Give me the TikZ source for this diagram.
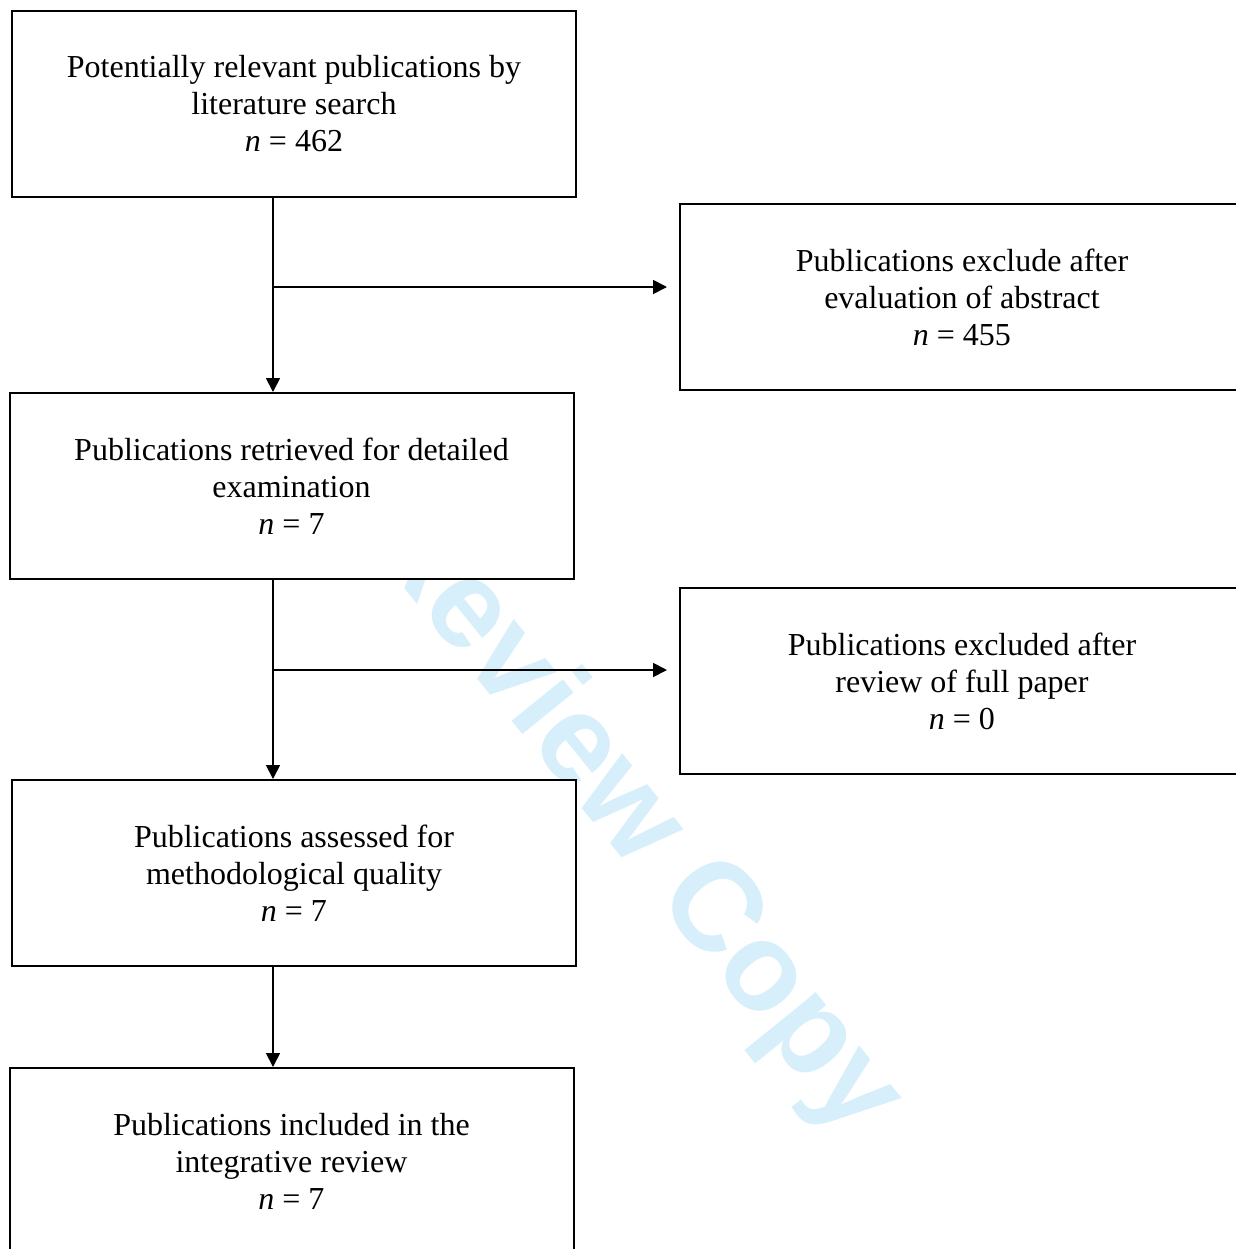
\documentclass[tikz,border=0pt]{standalone}
\usepackage{fontspec}
\setmainfont{Liberation Serif}
\newfontfamily\wmfont{Liberation Sans}
\usetikzlibrary{arrows.meta}
\definecolor{wmblue}{RGB}{214,239,251}

\begin{document}
\begin{tikzpicture}[
                x=0.5pt,y=-0.5pt,
                box/.style={draw,fill=white,line width=1pt,minimum width=282pt,minimum height=93pt,align=center,font=\fontsize{16}{18.5}\selectfont},
                link/.style={line width=0.9pt},
                arr/.style={link,-{Triangle[length=7pt,width=7pt]}},
                wm/.style={rotate=-51,text=wmblue,font=\wmfont\bfseries\fontsize{62.5}{64}\selectfont}
            ]
            \useasboundingbox (0,0) rectangle (1236,1249);
            \clip (0,0) rectangle (1236,1249);
            \node[wm] (wmark) at (632,818) {Review Copy};

            \node[box] (search) at (294,104) {Potentially relevant publications by\\ literature search\\ \textit{n} = 462};
            \node[box] (abstract) at (962,297) {Publications exclude after\\ evaluation of abstract\\ \textit{n} = 455};
            \node[box] (retrieved) at (291.5,486) {Publications retrieved for detailed\\ examination\\ \textit{n} = 7};
            \node[box] (fullpaper) at (962,681) {Publications excluded after\\ review of full paper\\ \textit{n} = 0};
            \node[box] (assessed) at (294,873) {Publications assessed for\\ methodological quality\\ \textit{n} = 7};
            \node[box] (included) at (291.5,1161) {Publications included in the\\ integrative review\\ \textit{n} = 7};

            \coordinate (split1) at (273,287);
            \coordinate (split2) at (273,670);
            \draw[arr] (search.south -| split1) -- (retrieved.north -| split1);
            \draw[arr] (split1) -- ([xshift=-6pt]abstract.west |- split1);
            \draw[arr] (retrieved.south -| split2) -- (assessed.north -| split2);
            \draw[arr] (split2) -- ([xshift=-6pt]fullpaper.west |- split2);
            \draw[arr] (assessed.south -| split2) -- (included.north -| split2);
        \end{tikzpicture}
\end{document}
